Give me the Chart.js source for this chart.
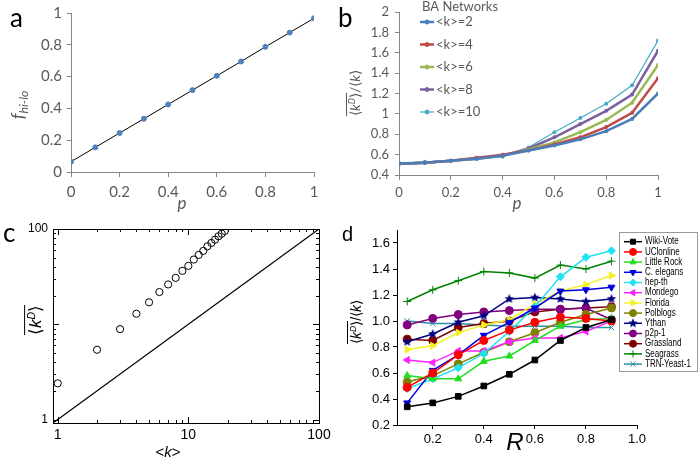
<!DOCTYPE html>
<html>
<head>
<meta charset="utf-8">
<script src="https://cdn.jsdelivr.net/npm/chart.js@4.4.1/dist/chart.umd.min.js"></script>
<style>
    body { margin: 0; background: #fff; }
    #fig { position: relative; width: 700px; height: 461px; overflow: hidden; font-family: Lato, sans-serif; }
    #fig canvas { position: absolute; }
    .lbl { position: absolute; white-space: nowrap; line-height: 1; }
    .rot { transform: translate(-50%, -50%) rotate(-90deg); }
    .hc { transform: translateX(-50%); }
    .ovl { display: inline-block; border-top: 1px solid currentColor; padding-top: 1px; }
    .sup { font-size: 0.62em; vertical-align: 0.55em; font-style: italic; }
    .sub { font-size: 0.68em; vertical-align: -0.3em; font-style: italic; }
    .arial { font-family: "Liberation Sans", Arial, sans-serif; }
</style>
</head>
<body>
<div id="fig">
    <canvas id="chartA" width="345" height="228" style="left:0;top:0"></canvas>
    <canvas id="chartB" width="355" height="228" style="left:345px;top:0"></canvas>
    <canvas id="chartC" width="345" height="239" style="left:0;top:222px"></canvas>
    <canvas id="chartD" width="355" height="239" style="left:345px;top:222px"></canvas>

    <!-- panel letters -->
    <div class="lbl" style="left:10px;top:4px;font-size:26px">a</div>
    <div class="lbl" style="left:338px;top:4px;font-size:26px">b</div>
    <div class="lbl" style="left:3px;top:219px;font-size:26px">c</div>
    <div class="lbl arial" style="left:342px;top:224px;font-size:20px">d</div>

    <!-- axis titles -->
    <div class="lbl rot" style="left:19px;top:105px;font-size:18px;color:#595959"><i>f</i><span class="sub">hi-lo</span></div>
    <div class="lbl hc" style="left:182px;top:194px;font-size:17px;color:#595959"><i>p</i></div>
    <div class="lbl rot" style="left:354px;top:93px;font-size:14px;color:#595959"><span class="ovl">⟨<i>k</i><span class="sup">D</span>⟩</span>/⟨<i>k</i>⟩</div>
    <div class="lbl hc" style="left:517px;top:194px;font-size:17px;color:#595959"><i>p</i></div>
    <div class="lbl rot arial" style="left:34px;top:320px;font-size:17px"><span class="ovl">⟨<i>k</i><span class="sup">D</span>⟩</span></div>
    <div class="lbl hc arial" style="left:168px;top:444px;font-size:15px">&lt;<i>k</i>&gt;</div>
    <div class="lbl rot arial" style="left:355px;top:322px;font-size:14px"><span class="ovl">⟨<i>k</i><span class="sup">D</span>⟩</span>/⟨<i>k</i>⟩</div>
    <div class="lbl hc arial" style="left:515px;top:430px;font-size:24px"><i>R</i></div>
</div>

<script>
// ---- panel a ----
const pValues = [0, 0.1, 0.2, 0.3, 0.4, 0.5, 0.6, 0.7, 0.8, 0.9, 1];
const fHiLo = [0.065, 0.155, 0.245, 0.335, 0.425, 0.515, 0.605, 0.695, 0.787, 0.877, 0.967];

// ---- panel b ----
const baLabels = ['<k>=2', '<k>=4', '<k>=6', '<k>=8', '<k>=10'];
const baK2 = [0.51, 0.52, 0.54, 0.56, 0.59, 0.64, 0.69, 0.75, 0.83, 0.95, 1.20];
const baK4 = [0.51, 0.52, 0.54, 0.57, 0.60, 0.64, 0.70, 0.77, 0.87, 1.01, 1.35];
const baK6 = [0.51, 0.52, 0.54, 0.56, 0.59, 0.65, 0.72, 0.82, 0.94, 1.11, 1.48];
const baK8 = [0.51, 0.52, 0.54, 0.56, 0.59, 0.66, 0.77, 0.90, 1.03, 1.19, 1.62];
const baK10 = [0.52, 0.53, 0.54, 0.56, 0.58, 0.67, 0.82, 0.96, 1.10, 1.28, 1.72];

// ---- panel c ----
const kMean = [1, 2, 3, 4, 5, 6, 7, 8, 9, 10, 11, 12, 13, 14, 15, 16, 17, 18, 19];
const kDMean = [2.4, 5.4, 8.9, 12.9, 17, 21.8, 26.2, 30.7, 36.4, 41, 47.8, 53.5, 58.9, 65.9, 71.4, 77.3, 83.8, 89.3, 95.4];
const diagEnds = [0.92, 100];
const decadeTicks = [1, 10, 100];

// ---- panel d ----
const rValues = [0.1, 0.2, 0.3, 0.4, 0.5, 0.6, 0.7, 0.8, 0.9];
const wikiVote = [0.34, 0.37, 0.42, 0.50, 0.59, 0.70, 0.85, 0.95, 1.01];
const uciOnline = [0.49, 0.60, 0.74, 0.85, 0.93, 0.99, 1.03, 1.02, 1.00];
const littleRock = [0.58, 0.555, 0.555, 0.69, 0.73, 0.85, 0.96, 1.01, 1.02];
const cElegans = [0.37, 0.62, 0.74, 0.89, 0.99, 1.10, 1.23, 1.24, 1.26];
const hepTh = [0.48, 0.555, 0.64, 0.75, 0.92, 1.11, 1.34, 1.49, 1.54];
const mondego = [0.70, 0.68, 0.77, 0.77, 0.84, 0.87, 0.87, 0.92, 1.00];
const florida = [0.78, 0.81, 0.91, 0.97, 1.01, 1.13, 1.23, 1.28, 1.35];
const polblogs = [0.53, 0.58, 0.67, 0.76, 0.84, 0.91, 0.99, 1.05, 1.10];
const ythan = [0.84, 0.90, 0.99, 1.04, 1.17, 1.18, 1.17, 1.15, 1.17];
const p2p1 = [0.97, 1.02, 1.05, 1.07, 1.08, 1.09, 1.09, 1.10, 1.01];
const grassland = [0.86, 0.85, 0.95, 0.98, 1.00, 1.07, 1.09, 1.10, 1.11];
const seagrass = [1.15, 1.24, 1.31, 1.38, 1.37, 1.33, 1.43, 1.40, 1.46];
const trnYeast = [1.00, 0.98, 0.98, 0.97, 0.96, 0.96, 0.96, 0.95, 0.95];

Chart.defaults.font.family = 'Lato, sans-serif';
Chart.defaults.animation = false;

const ARIAL = '"Liberation Sans", Arial, sans-serif';
const GREY_AXIS = '#868686';
const GREY_TEXT = '#595959';

// fix axis sizes so the plot areas land where the reference has them
function fixWidth(w) {
    return s => { s.width = w; s.paddingTop = 0; s.paddingBottom = 0; };
}
function fixHeight(h) {
    return s => { s.height = h; s.paddingLeft = 0; s.paddingRight = 0; };
}
function points(xs, ys) {
    return xs.map((x, i) => ({ x: x, y: ys[i] }));
}
// excel style: 0, 0.2 ... 1
const shortNum = v => String(Math.round(v * 10) / 10);

// legend drawn at a fixed spot, reading labels/colours from the datasets
const placedLegend = {
    id: 'placedLegend',
    afterDraw(chart, args, opts) {
        if (opts.x === undefined) return;
        const ctx = chart.ctx;
        ctx.save();
        if (opts.box) {
            const [bx, by, bw, bh] = opts.box;
            ctx.fillStyle = '#fff';
            ctx.fillRect(bx, by, bw, bh);
            ctx.strokeStyle = opts.boxColor;
            ctx.lineWidth = 1;
            ctx.strokeRect(bx + 0.5, by + 0.5, bw, bh);
        }
        ctx.font = opts.font;
        ctx.textBaseline = 'middle';
        ctx.textAlign = 'left';
        if (opts.title) {
            ctx.fillStyle = opts.color;
            ctx.fillText(opts.title, opts.titleX, opts.titleY);
        }
        const sx = opts.textScaleX || 1;
        chart.data.datasets.forEach((ds, i) => {
            if (!ds.label) return;
            const y = opts.y + i * opts.dy;
            ctx.strokeStyle = ds.borderColor;
            ctx.lineWidth = ds.borderWidth;
            ctx.beginPath();
            ctx.moveTo(opts.x, y);
            ctx.lineTo(opts.x + opts.len, y);
            ctx.stroke();
            ctx.fillStyle = ds.pointBackgroundColor || ds.backgroundColor;
            ctx.strokeStyle = ds.pointBorderColor || ds.borderColor;
            ctx.lineWidth = ds.pointBorderWidth || 1;
            Chart.helpers.drawPoint(ctx, {
                pointStyle: ds.pointStyle,
                radius: opts.radius || ds.pointRadius,
                rotation: ds.pointRotation || 0,
                borderWidth: ds.pointBorderWidth || 1
            }, opts.x + opts.len / 2, y);
            ctx.fillStyle = opts.color;
            ctx.save();
            ctx.translate(opts.x + opts.len + opts.gap, y);
            ctx.scale(sx, 1);
            ctx.fillText(ds.label, 0, 0);
            ctx.restore();
        });
        ctx.restore();
    }
};

// boxed frame with inward ticks for the log-log panel
function isDecade(v) {
    const l = Math.log10(v);
    return Math.abs(l - Math.round(l)) < 1e-6;
}
function isWholeStep(v) {
    const m = v / Math.pow(10, Math.floor(Math.log10(v) + 1e-9));
    return Math.abs(m - Math.round(m)) < 1e-6;
}
const innerTicks = {
    id: 'innerTicks',
    afterDraw(chart) {
        const { ctx, chartArea: a, scales: { x, y } } = chart;
        ctx.save();
        ctx.strokeStyle = '#000';
        ctx.lineWidth = 1;
        ctx.strokeRect(Math.round(a.left) + 0.5, Math.round(a.top) + 0.5,
            Math.round(a.right - a.left), Math.round(a.bottom - a.top));
        ctx.beginPath();
        x.ticks.forEach(t => {
            if (!isWholeStep(t.value)) return;
            const px = Math.round(x.getPixelForValue(t.value)) + 0.5;
            const len = isDecade(t.value) ? 6 : 3;
            ctx.moveTo(px, a.bottom); ctx.lineTo(px, a.bottom - len);
            ctx.moveTo(px, a.top); ctx.lineTo(px, a.top + len);
        });
        y.ticks.forEach(t => {
            if (!isWholeStep(t.value)) return;
            const py = Math.round(y.getPixelForValue(t.value)) + 0.5;
            const len = isDecade(t.value) ? 6 : 3;
            ctx.moveTo(a.left, py); ctx.lineTo(a.left + len, py);
            ctx.moveTo(a.right, py); ctx.lineTo(a.right - len, py);
        });
        ctx.stroke();
        ctx.restore();
    }
};

function starImage(color, r) {
    const c = document.createElement('canvas');
    c.width = c.height = 2 * r + 2;
    const g = c.getContext('2d');
    g.fillStyle = color;
    g.beginPath();
    for (let i = 0; i < 10; i++) {
        const ang = -Math.PI / 2 + i * Math.PI / 5;
        const rr = i % 2 ? r * 0.45 : r;
        g.lineTo(r + 1 + rr * Math.cos(ang), r + 1 + rr * Math.sin(ang));
    }
    g.closePath();
    g.fill();
    return c;
}

// ---- a ----
new Chart(document.getElementById('chartA'), {
    type: 'line',
    data: {
        datasets: [{
            data: points(pValues, fHiLo),
            borderColor: '#000',
            borderWidth: 1,
            pointRadius: 2.5,
            pointBackgroundColor: '#4f81bd',
            pointBorderColor: '#4f81bd'
        }]
    },
    options: {
        responsive: false,
        layout: { padding: { left: 0, top: 13, right: 31, bottom: 0 } },
        plugins: { legend: { display: false }, tooltip: { enabled: false } },
        scales: {
            x: {
                type: 'linear', min: 0, max: 1,
                afterFit: fixHeight(56),
                grid: { drawOnChartArea: false, tickLength: 5, color: GREY_AXIS },
                border: { color: GREY_AXIS },
                ticks: { stepSize: 0.2, padding: 6, color: GREY_TEXT, font: { size: 15 }, maxRotation: 0, callback: shortNum }
            },
            y: {
                min: 0, max: 1,
                afterFit: fixWidth(71),
                grid: { drawOnChartArea: false, tickLength: 4, color: GREY_AXIS },
                border: { color: GREY_AXIS },
                ticks: { stepSize: 0.2, padding: 5, color: GREY_TEXT, font: { size: 15 }, callback: shortNum }
            }
        }
    }
});

// ---- b ----
const baColors = ['#4a7ebb', '#be4b48', '#98b954', '#7d60a0', '#46aac4'];
const baSeries = [baK2, baK4, baK6, baK8, baK10];
new Chart(document.getElementById('chartB'), {
    type: 'line',
    data: {
        datasets: baSeries.map((vals, i) => ({
            label: baLabels[i],
            data: points(pValues, vals),
            borderColor: baColors[i],
            backgroundColor: baColors[i],
            borderWidth: i === 4 ? 1.2 : 2.5,
            pointRadius: 2,
            pointStyle: 'circle',
            pointBorderWidth: 0
        }))
    },
    options: {
        responsive: false,
        layout: { padding: { left: 0, top: 12, right: 42, bottom: 0 } },
        plugins: {
            legend: { display: false },
            tooltip: { enabled: false },
            placedLegend: {
                x: 75, y: 22, dy: 22.5, len: 14, gap: 2, radius: 2,
                font: '13px Lato, sans-serif', color: GREY_TEXT,
                title: 'BA Networks', titleX: 77, titleY: 7
            }
        },
        scales: {
            x: {
                type: 'linear', min: 0, max: 1,
                afterFit: fixHeight(53),
                grid: { drawOnChartArea: false, tickLength: 5, color: GREY_AXIS },
                border: { color: GREY_AXIS },
                ticks: { stepSize: 0.2, padding: 5, color: GREY_TEXT, font: { size: 13 }, maxRotation: 0, callback: shortNum }
            },
            y: {
                min: 0.4, max: 2,
                afterFit: fixWidth(54),
                grid: { drawOnChartArea: false, tickLength: 4, color: GREY_AXIS },
                border: { color: GREY_AXIS },
                ticks: { stepSize: 0.2, padding: 6, color: GREY_TEXT, font: { size: 13 }, callback: shortNum }
            }
        }
    },
    plugins: [placedLegend]
});

// ---- c ----
new Chart(document.getElementById('chartC'), {
    type: 'scatter',
    data: {
        datasets: [{
            data: points(kMean, kDMean),
            pointStyle: 'circle',
            pointRadius: 3.6,
            pointBorderWidth: 1,
            pointBorderColor: '#000',
            pointBackgroundColor: 'rgba(0,0,0,0)',
            showLine: false
        }, {
            data: points(diagEnds, diagEnds),
            showLine: true,
            borderColor: '#000',
            borderWidth: 1.2,
            pointRadius: 0
        }]
    },
    options: {
        responsive: false,
        layout: { padding: { left: 0, top: 7, right: 26, bottom: 0 } },
        plugins: { legend: { display: false }, tooltip: { enabled: false } },
        scales: {
            x: {
                type: 'logarithmic', min: 0.92, max: 100,
                afterFit: fixHeight(38),
                grid: { display: false, drawTicks: false },
                border: { display: false },
                ticks: {
                    autoSkip: false, maxRotation: 0, padding: 4, color: '#000',
                    font: { family: ARIAL, size: 14 },
                    callback: v => decadeTicks.some(d => Math.abs(d - v) < 1e-6) ? String(Math.round(v)) : ''
                }
            },
            y: {
                type: 'logarithmic', min: 0.92, max: 100,
                afterFit: fixWidth(53),
                grid: { display: false, drawTicks: false },
                border: { display: false },
                ticks: {
                    autoSkip: false, padding: 5, color: '#000',
                    font: { family: ARIAL, size: 12 },
                    callback: v => (Math.abs(v - 1) < 1e-6 || Math.abs(v - 100) < 1e-6) ? String(Math.round(v)) : ''
                }
            }
        }
    },
    plugins: [innerTicks]
});

// ---- d ----
function netSeries(label, values, color, style, rotation) {
    return {
        label: label,
        data: points(rValues, values),
        borderColor: color,
        backgroundColor: color,
        borderWidth: 1.5,
        pointStyle: style,
        pointRotation: rotation || 0,
        pointRadius: 4,
        pointBorderWidth: 1
    };
}
new Chart(document.getElementById('chartD'), {
    type: 'line',
    data: {
        datasets: [
            netSeries('Wiki-Vote', wikiVote, '#000000', 'rect'),
            netSeries('UClonline', uciOnline, '#ff0000', 'circle'),
            netSeries('Little Rock', littleRock, '#22dd22', 'triangle'),
            netSeries('C. elegans', cElegans, '#0000dd', 'triangle', 180),
            netSeries('hep-th', hepTh, '#22e2f2', 'rectRot'),
            netSeries('Mondego', mondego, '#ff22ff', 'triangle', 270),
            netSeries('Florida', florida, '#f2f222', 'triangle', 90),
            netSeries('Polblogs', polblogs, '#808000', 'circle'),
            netSeries('Ythan', ythan, '#000080', starImage('#000080', 5)),
            netSeries('p2p-1', p2p1, '#800080', 'circle'),
            netSeries('Grassland', grassland, '#800000', 'circle'),
            netSeries('Seagrass', seagrass, '#008000', 'cross'),
            netSeries('TRN-Yeast-1', trnYeast, '#2f8fa8', 'crossRot')
        ]
    },
    options: {
        responsive: false,
        layout: { padding: { left: 0, top: 8, right: 63, bottom: 0 } },
        plugins: {
            legend: { display: false },
            tooltip: { enabled: false },
            placedLegend: {
                box: [274, 10, 78, 139], boxColor: '#999',
                x: 279, y: 19.7, dy: 10.2, len: 18, gap: 3, radius: 3.5,
                font: '10px ' + ARIAL, color: '#000', textScaleX: 0.8
            }
        },
        scales: {
            x: {
                type: 'linear', min: 0.06, max: 1.0,
                afterFit: fixHeight(36),
                grid: { drawOnChartArea: false, tickLength: 4, color: '#000' },
                border: { color: '#000' },
                ticks: {
                    stepSize: 0.2, includeBounds: false, padding: 3, color: '#000', maxRotation: 0,
                    font: { family: ARIAL, size: 13 },
                    callback: v => v.toFixed(1)
                }
            },
            y: {
                min: 0.2, max: 1.7,
                afterFit: fixWidth(52),
                grid: { drawOnChartArea: false, tickLength: 4, color: '#000' },
                border: { color: '#000' },
                ticks: {
                    stepSize: 0.2, includeBounds: false, padding: 3, color: '#000',
                    font: { family: ARIAL, size: 13 },
                    callback: v => v.toFixed(1)
                }
            }
        }
    },
    plugins: [placedLegend]
});
</script>
</body>
</html>
